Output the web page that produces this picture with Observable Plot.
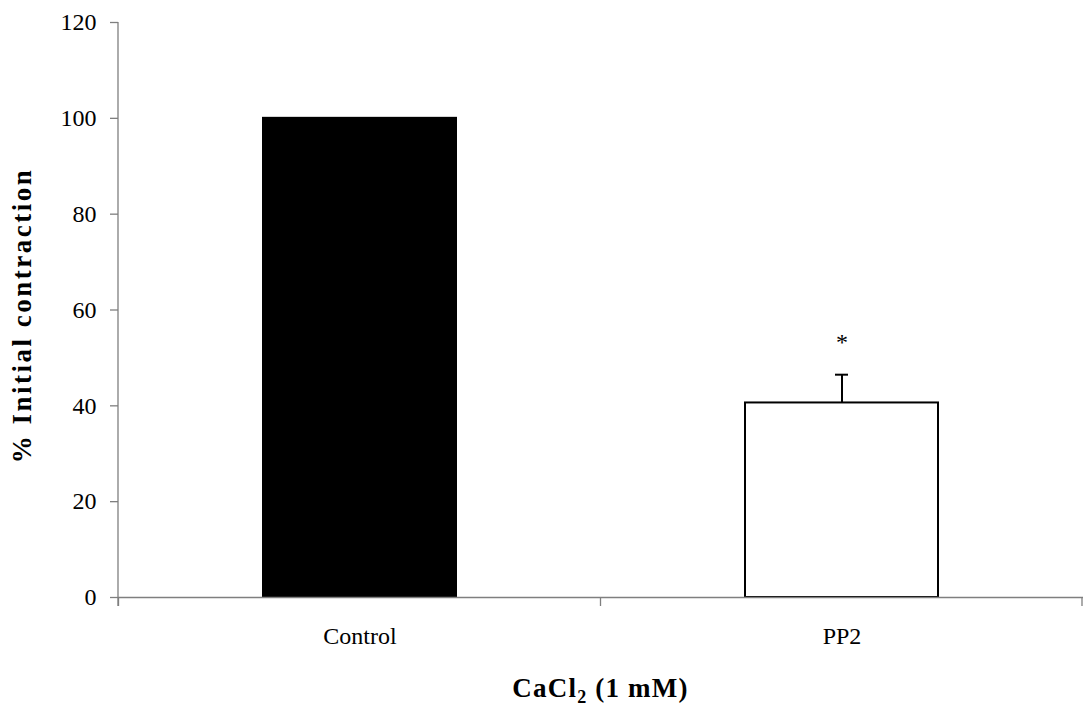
<!DOCTYPE html>
<html><head><meta charset="utf-8">
<script src="https://cdn.jsdelivr.net/npm/d3@7"></script>
<script src="https://cdn.jsdelivr.net/npm/@observablehq/plot@0.6"></script>
<style>body{margin:0;background:#fff}</style>
</head><body><div id="chart"></div>
<script>
const categories = ["Control", "PP2"];
const means = [100, 40.6];
const sems = [0, 5.9];
const stars = ["", "*"];
const fills = ["black", "white"];
const yTicks = [0, 20, 40, 60, 80, 100, 120];
const yLabel = "% Initial contraction";
const data = categories.map((c, i) => ({group: c, mean: means[i], sem: sems[i], top: means[i] + sems[i], star: stars[i], fill: fills[i]}));
const font = "'Liberation Serif', 'Times New Roman', serif";
const axisGray = "#7f7f7f";

// y-axis line and category-boundary tick marks on the x axis, derived from the scales
const axisLines = (index, scales) => {
  const x = scales.x, step = x.step(), bw = x.bandwidth();
  const y = scales.y;
  const y0 = y(0);
  const [xl] = x.range();
  const edges = categories.map(c => x(c) - (step - bw) / 2);
  edges.push(edges[edges.length - 1] + step);
  const g = d3.create("svg:g").attr("stroke", axisGray).attr("stroke-width", 1.3);
  g.append("line").attr("x1", xl).attr("x2", xl).attr("y1", y(yTicks[yTicks.length - 1])).attr("y2", y0 + 9);
  g.selectAll(".edge").data(edges).join("line")
    .attr("x1", d => Math.min(d, 1082)).attr("x2", d => Math.min(d, 1082))
    .attr("y1", y0).attr("y2", y0 + 9);
  return g.node();
};

const chart = Plot.plot({
  width: 1083,
  height: 709,
  marginLeft: 118,
  marginRight: 0,
  marginTop: 22,
  marginBottom: 112,
  style: {fontFamily: font, fontSize: "24px", color: "black", background: "white"},
  x: {domain: categories, paddingInner: 0.6, paddingOuter: 0.3, label: null},
  y: {domain: [0, 120], label: null},
  marks: [
    Plot.axisY({ticks: yTicks, tickSize: 8, tickPadding: 14, stroke: axisGray, strokeWidth: 1.3, label: null, fontSize: 24}),
    Plot.axisX({tickSize: 0, tickPadding: 29, label: null, fontSize: 24, style: {letterSpacing: "1px"}}),
    Plot.barY(data, {x: "group", y: "mean", fill: "fill", stroke: "black", strokeWidth: 2}),
    Plot.ruleX(data.filter(d => d.sem > 0), {x: "group", y1: "mean", y2: "top", stroke: "black", strokeWidth: 2}),
    Plot.tickY(data.filter(d => d.sem > 0), {x: "group", y: "top", stroke: "black", strokeWidth: 2, inset: 90}),
    Plot.text(data, {x: "group", y: "top", text: "star", dy: -32, fontSize: 24}),
    Plot.ruleY([0], {stroke: axisGray, strokeWidth: 1.3}),
    axisLines
  ]
});
const svg = d3.select(chart);
// y title
svg.append("text")
  .attr("transform", `translate(${118 - 96},${(22 + 597) / 2 + 6}) rotate(-90)`)
  .attr("dy", "0.32em")
  .attr("text-anchor", "middle")
  .attr("font-family", font).attr("font-size", 27).attr("font-weight", "bold")
  .style("letter-spacing", "2.5px")
  .text(yLabel);
// x title with subscript as real text
const h = svg.append("text")
  .attr("x", (118 + 1083) / 2).attr("y", 697)
  .attr("text-anchor", "middle")
  .attr("font-family", font).attr("font-size", 27).attr("font-weight", "bold")
  .style("letter-spacing", "1.2px");
h.append("tspan").text("CaCl");
h.append("tspan").attr("font-size", 18).attr("dy", 6).text("2");
h.append("tspan").attr("dy", -6).text(" (1 mM)");
document.getElementById("chart").appendChild(chart);
</script>
</body></html>
